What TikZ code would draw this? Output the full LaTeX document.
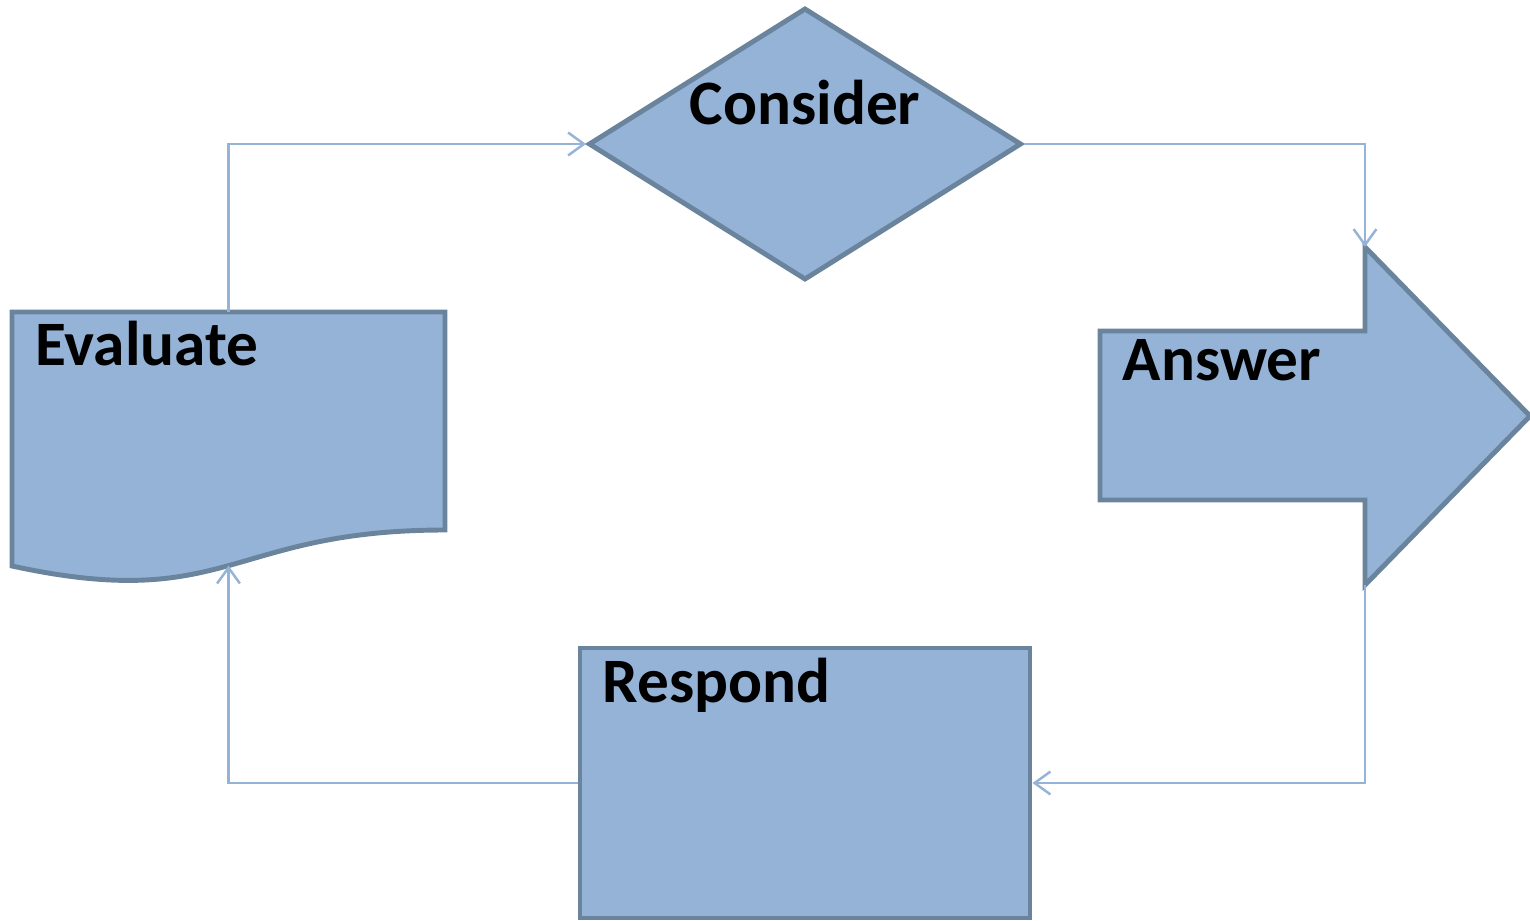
\documentclass[tikz,border=0pt]{standalone}
\usepackage{fontspec}
\setmainfont{Carlito}
\usepackage{xcolor}
\usetikzlibrary{arrows.meta, positioning}
\usetikzlibrary{shapes.geometric}
\definecolor{boxfill}{HTML}{95B3D7}
\definecolor{boxline}{HTML}{6B849D}
\definecolor{linkcol}{HTML}{95B3D7}
\tikzset{
    shapebox/.style={fill=boxfill, draw=boxline, line width=1.4pt, line join=miter},
    link/.style={draw=linkcol, line width=0.7pt, -{Straight Barb[length=4.5pt,width=6.5pt]}},
    label/.style={font=\fontsize{18}{21}\selectfont\bfseries, inner sep=0pt}
}

\begin{document}
\begin{tikzpicture}
            \useasboundingbox (0,0) rectangle (15.3,9.2);
            \node[shapebox, diamond, minimum width=4.33cm, minimum height=2.72cm, inner sep=0pt] (consider) at (8.05,7.76) {};
            \node[shapebox, rectangle, minimum width=4.5cm, minimum height=2.7cm, inner sep=0pt] (respond) at (8.05,1.37) {};
            \draw[shapebox] (0.12,6.08) -- (4.45,6.08) -- (4.45,3.90)
                .. controls (2.285,3.90) and (2.285,3.07) .. (0.12,3.54) -- cycle;
            \draw[shapebox] (11.00,5.89) -- (13.65,5.89) -- (13.65,6.73) -- (15.30,5.04)
                -- (13.65,3.35) -- (13.65,4.20) -- (11.00,4.20) -- cycle;
            \coordinate (evaltop) at (2.285,6.08);
            \coordinate (evalbot) at (2.285,3.544);
            \coordinate (anstop) at (13.65,6.73);
            \coordinate (ansbot) at (13.65,3.35);
            \node[label, anchor=base] (considertext) at (8.05,7.95) {Consider};
            \node[label, anchor=base west] (evaluatetext) at (0.35,5.55) {Evaluate};
            \node[label, anchor=base west] (answertext) at (11.22,5.40) {Answer};
            \node[label, anchor=base west] (respondtext) at (6.02,2.18) {Respond};
            \draw[link] (evaltop) |- (consider.west);
            \draw[link] (consider.east) -| (anstop);
            \draw[link] (ansbot) |- (respond.east);
            \draw[link] (respond.west) -| (evalbot);
        \end{tikzpicture}
\end{document}
